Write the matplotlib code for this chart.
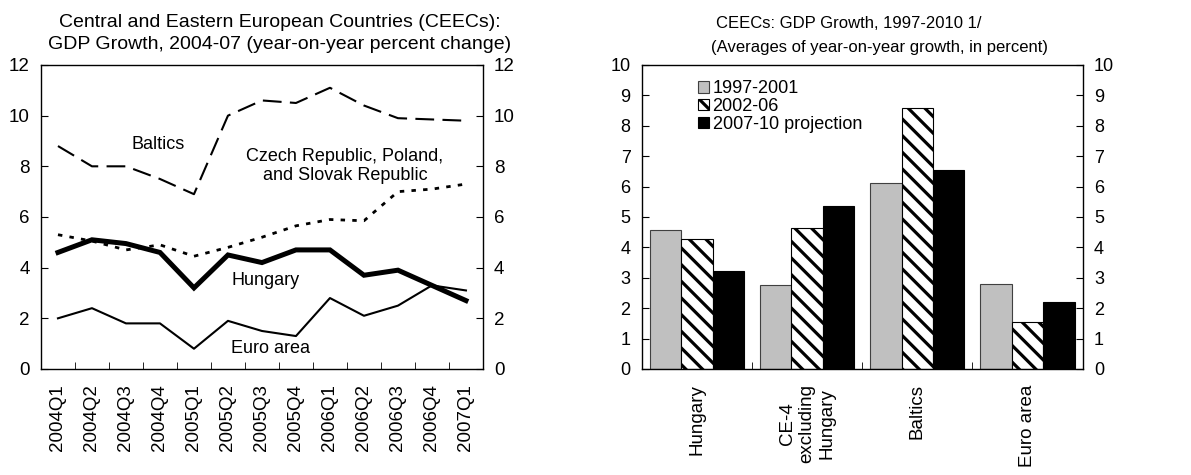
import numpy as np
import matplotlib
matplotlib.use('Agg')
import matplotlib.pyplot as plt

plt.rcParams['font.family'] = ['Liberation Sans', 'DejaVu Sans']
plt.rcParams['hatch.linewidth'] = 2.3

# ============================================================
# 数据: 左图 季度 GDP 增速
# ============================================================
quarters = ['2004Q1', '2004Q2', '2004Q3', '2004Q4', '2005Q1', '2005Q2', '2005Q3',
            '2005Q4', '2006Q1', '2006Q2', '2006Q3', '2006Q4', '2007Q1']
baltics = [8.8, 8.0, 8.0, 7.5, 6.9, 10.0, 10.6, 10.5, 11.1, 10.4, 9.9, 9.85, 9.8]
ce3 = [5.3, 5.05, 4.7, 4.9, 4.45, 4.8, 5.2, 5.65, 5.9, 5.85, 7.0, 7.1, 7.3]
hungary = [4.6, 5.1, 4.95, 4.6, 3.2, 4.5, 4.2, 4.7, 4.7, 3.7, 3.9, 3.3, 2.7]
euro_area = [2.0, 2.4, 1.8, 1.8, 0.8, 1.9, 1.5, 1.3, 2.8, 2.1, 2.5, 3.3, 3.1]

# ============================================================
# 数据: 右图 平均增速
# ============================================================
groups = ['Hungary', 'CE-4\nexcluding\nHungary', 'Baltics', 'Euro area']
periods = ['1997-2001', '2002-06', '2007-10 projection']
avg_9701 = [4.57, 2.75, 6.13, 2.8]
avg_0206 = [4.28, 4.63, 8.6, 1.55]
avg_0710 = [3.22, 5.37, 6.55, 2.2]

fig = plt.figure(figsize=(11.91, 4.75), dpi=100)
ax1 = fig.add_axes([0.0344, 0.2232, 0.3711, 0.64])
ax2 = fig.add_axes([0.5388, 0.2232, 0.3703, 0.64])

# --- 左: 折线图 ---
x = np.arange(len(quarters))
ax1.plot(x, baltics, color='black', lw=1.5, dashes=(9, 4))
ax1.plot(x, ce3, color='black', lw=2.0, dashes=(1.6, 2.6))
ax1.plot(x, hungary, color='black', lw=3.6, solid_joinstyle='miter')
ax1.plot(x, euro_area, color='black', lw=1.5)

ax1.set_xlim(-0.5, len(quarters) - 0.5)
ax1.set_ylim(0, 12)
ax1.set_yticks(range(0, 13, 2))
ax1.set_xticks(x)
ax1.set_xticklabels(quarters, rotation=90, fontsize=13.5)
ax1.set_xticks(x[:-1] + 0.5, minor=True)
ax1.tick_params(axis='x', which='major', length=0, pad=11)
ax1.tick_params(axis='x', which='minor', direction='in', length=5)
ax1.tick_params(axis='y', direction='in', length=5, left=True, right=True,
                labelleft=True, labelright=True, labelsize=13.5, pad=8)

ax1.text(2.94, 8.88, 'Baltics', fontsize=13, ha='center', va='center')
ax1.text(8.44, 8.0, 'Czech Republic, Poland,\nand Slovak Republic', fontsize=13,
         ha='center', va='center', linespacing=1.15)
ax1.text(6.12, 3.5, 'Hungary', fontsize=13, ha='center', va='center')
ax1.text(6.26, 0.8, 'Euro area', fontsize=13, ha='center', va='center')

ax1.text(0.54, 1.14, 'Central and Eastern European Countries (CEECs):',
         transform=ax1.transAxes, ha='center', va='center', fontsize=14)
ax1.text(0.54, 1.066, 'GDP Growth, 2004-07 (year-on-year percent change)',
         transform=ax1.transAxes, ha='center', va='center', fontsize=14)

# --- 右: 柱状图 ---
xb = np.arange(len(groups))
w = 0.285
ax2.bar(xb - w, avg_9701, w, color='#c0c0c0', edgecolor='#404040', lw=0.8,
        label=periods[0])
ax2.bar(xb, avg_0206, w, color='white', edgecolor='black', hatch='\\\\', lw=0.8,
        label=periods[1])
ax2.bar(xb + w, avg_0710, w, color='black', edgecolor='black', lw=0.8,
        label=periods[2])

ax2.set_xlim(-0.5, len(groups) - 0.5)
ax2.set_ylim(0, 10)
ax2.set_yticks(range(0, 11))
ax2.set_xticks(xb)
ax2.set_xticklabels(groups, rotation=90, fontsize=13.5, multialignment='center')
ax2.set_xticks(xb[:-1] + 0.5, minor=True)
ax2.tick_params(axis='x', which='major', length=0, pad=11)
ax2.tick_params(axis='x', which='minor', direction='in', length=5)
ax2.tick_params(axis='y', direction='in', length=5, left=True, right=True,
                labelleft=True, labelright=True, labelsize=13, pad=8)

ax2.legend(loc='upper left', bbox_to_anchor=(0.128, 0.95), frameon=False,
           fontsize=13, handlelength=0.6, handleheight=0.6, handletextpad=0.2,
           labelspacing=0.05, borderpad=0, borderaxespad=0)

ax2.text(0.47, 1.138, 'CEECs: GDP Growth, 1997-2010 1/',
         transform=ax2.transAxes, ha='center', va='center', fontsize=12)
ax2.text(0.54, 1.058, '(Averages of year-on-year growth, in percent)',
         transform=ax2.transAxes, ha='center', va='center', fontsize=12)

for ax in (ax1, ax2):
    for s in ax.spines.values():
        s.set_linewidth(1.0)

fig.savefig('out.png', dpi=100, facecolor='white')
